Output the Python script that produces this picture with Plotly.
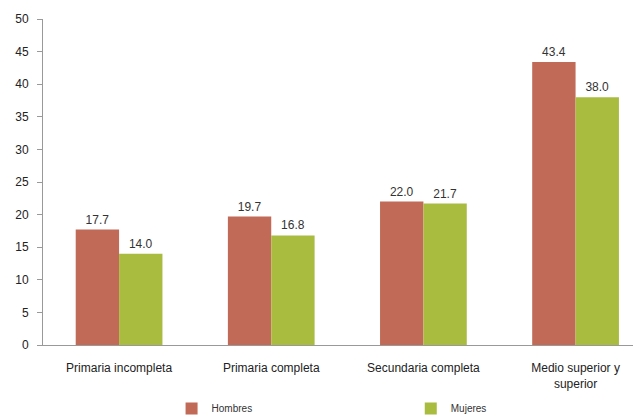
import plotly.graph_objects as go

categories = ["Primaria incompleta", "Primaria completa", "Secundaria completa", "Medio superior y<br>superior"]
hombres = [17.7, 19.7, 22.0, 43.4]
mujeres = [14.0, 16.8, 21.7, 38.0]
yticks = [0, 5, 10, 15, 20, 25, 30, 35, 40, 45, 50]

font = "Liberation Sans, Arial, sans-serif"

fig = go.Figure()
fig.add_trace(go.Bar(
    name="Hombres", x=categories, y=hombres, legend="legend",
    marker=dict(color="#C06A57", line=dict(width=0)),
    text=[f"{v:.1f}" for v in hombres], textposition="outside",
    textfont=dict(size=12, color="#333333", family=font), cliponaxis=False,
))
fig.add_trace(go.Bar(
    name="Mujeres", x=categories, y=mujeres, legend="legend2",
    marker=dict(color="#A9BC40", line=dict(width=0)),
    text=[f"{v:.1f}" for v in mujeres], textposition="outside",
    textfont=dict(size=12, color="#333333", family=font), cliponaxis=False,
))

leg_common = dict(
    orientation="h", yanchor="middle", xanchor="left",
    font=dict(size=10, color="#333333"), itemwidth=30,
    bgcolor="rgba(0,0,0,0)", tracegroupgap=0,
)

# page body has an 8px margin; size the figure so the plot lands where the reference has it
fig.update_layout(
    width=633, height=409,
    margin=dict(l=35, r=0, t=11, b=72, autoexpand=False),
    paper_bgcolor="white", plot_bgcolor="white",
    barmode="group", bargap=0.43, bargroupgap=0,
    font=dict(family=font, size=11, color="#222222"),
    showlegend=True,
    legend=dict(x=0.215, y=-0.195, **leg_common),
    legend2=dict(x=0.615, y=-0.195, **leg_common),
    xaxis=dict(
        range=[-0.5, 3.43], showline=True, linecolor="#999999", linewidth=1,
        ticks="", showgrid=False, tickfont=dict(size=12, color="#222222"),
        ticklabelstandoff=12,
    ),
    yaxis=dict(
        range=[0, 50], tickvals=yticks, showline=True, linecolor="#999999",
        linewidth=1, ticks="outside", ticklen=5, tickcolor="#999999",
        showgrid=False, zeroline=False, tickfont=dict(size=12, color="#222222"),
        ticklabelstandoff=6,
    ),
)

fig.write_html("out.html")
